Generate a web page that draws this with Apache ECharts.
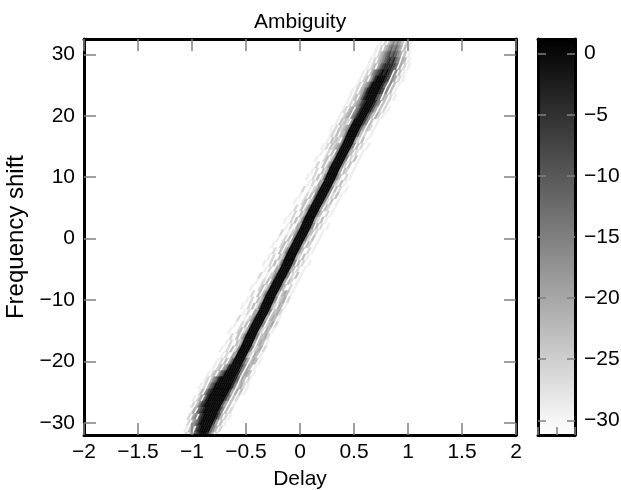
<!DOCTYPE html>
<html>
<head>
<meta charset="utf-8">
<script src="https://cdn.jsdelivr.net/npm/echarts@6/dist/echarts.min.js"></script>
<style>
html, body { margin: 0; padding: 0; background: #fff; }
#AmbiguityChart { width: 621px; height: 490px; }
</style>
</head>
<body>
<div id="AmbiguityChart"></div>
<script>
// frequency rows, top to bottom
const freqRows = [32, 31, 30, 29, 28, 27, 26, 25, 24, 23, 22, 21, 20, 19, 18, 17, 16, 15, 14, 13, 12, 11, 10, 9, 8, 7, 6, 5, 4, 3, 2, 1, 0,
  -1, -2, -3, -4, -5, -6, -7, -8, -9, -10, -11, -12, -13, -14, -15, -16, -17, -18, -19, -20,
  -21, -22, -23, -24, -25, -26, -27, -28, -29, -30, -31, -32]

// delay of the ridge centre in each row
const ridgeDelay = [0.87, 0.85, 0.83, 0.81, 0.79, 0.76, 0.74, 0.71, 0.68, 0.66, 0.63, 0.60, 0.57, 0.54, 0.51, 0.48, 0.46,
  0.43, 0.40, 0.37, 0.34, 0.31, 0.29, 0.26, 0.23, 0.20, 0.17, 0.14, 0.11, 0.08, 0.06, 0.03, 0.00,
  -0.03, -0.06, -0.09, -0.11, -0.14, -0.17, -0.20, -0.23, -0.26, -0.29, -0.31, -0.34, -0.37, -0.40, -0.43, -0.46,
  -0.48, -0.51, -0.54, -0.57, -0.60, -0.63, -0.66, -0.68, -0.71, -0.74, -0.77, -0.80, -0.83, -0.85, -0.88, -0.90]

// level per cell across the ridge, offsets -0.24 .. +0.24 in steps of 0.02 ('.' = below scale)
const bandRows = [
  '......1.2.3454543.2.1....',
  '.....1.2.34565654.3.1....',
  '.....1.23456767654.3.1...',
  '....1.2.3456787865.43.1..',
  '....1.23.467888876.4.2.1.',
  '...1.2.3567898987.5.3.1..',
  '...1.23.468999987.54.2.1.',
  '...12.34579999986.5.3.1..',
  '..1.2.34689999987.5.3.1..',
  '..1.23.4689999976.43.2.1.',
  '..1.2.345789999865.3.2...',
  '..12.34.5689999864.3.2.1.',
  '..1.234.5689999753.42.1..',
  '..1.3232.59999975.3..1...',
  '.1.2.323459999964.32.1...',
  '..12.3.3359999963.2..1...',
  '..1.3232.59999942.3.1....',
  '.1.2.32345999995.3.2..1..',
  '..1..2.3.59999943.2..1...',
  '.1...23.24999995.2.3.1...',
  '...2..3.359999952.3..1...',
  '..1.2..324999994.32..1...',
  '.1..2.3.259999953..2.1...',
  '...1.2..449999942.3.1....',
  '..2..1.235999995.3.2..1..',
  '..1..2.3.5999995.2.3.1...',
  '.1...23.249999952.3..1...',
  '...2..3.35999994.32..1...',
  '..1.2..3249999953..2.1...',
  '.1..2.3.259999942.3.1....',
  '...1.2..44999995.3.2..1..',
  '..2..1.2359999943.2..1...',
  '..1..2.3.59999952.3..1...',
  '.1...23.24999994.32..1...',
  '...2..3.359999953..2.1...',
  '..1.2..3249999942.3.1....',
  '.1..2.3.25999995.3.2..1..',
  '...1.2..449999943.2..1...',
  '..2..1.235999995.2.3.1...',
  '..1..2.3.5999994.32..1...',
  '.1...23.249999953..2.1...',
  '...2..3.35999994.343.1...',
  '..1.2..324999995.234.2...',
  '.1..2.3.259999942.43.1...',
  '...1.2..44999995.3342....',
  '..2..1.235999994.343.1...',
  '..1..2.3.5999995.234.2...',
  '.1...23.249999942.43.1...',
  '...2..3.35999995.3342....',
  '..1.2..324999994.343.1...',
  '.1..2.3.25999995.234.2...',
  '...1.2..449999942.43.1...',
  '..1.2.3.469999964.343.1..',
  '..1.23.4589999975.43.1...',
  '.1.23.46799999985.443.1..',
  '.12.3568999999986.43.2...',
  '1.2.4679999999985.342.1..',
  '.13.5789999999974.4.3.1..',
  '1.24.689999999975.3.2....',
  '.2.35789999999964.3.1....',
  '..14.678999999975.3.2....',
  '..2.45.78999999863.2.1...',
  '...2.456899999974.3.1....',
  '...1.34.7899999653.2.....',
  '....2.3.678999864.2......'
]

// dB value of each level character
const levelDb = [null, -29, -26, -23, -20, -16, -12, -8, -4, 0]
const cellWidth = 0.02

const freqTicks = [-30, -20, -10, 0, 10, 20, 30]
const dbTicks = [-30, -25, -20, -15, -10, -5, 0]
const dbRange = [-31.2, 1.2]
const grayRamp = ['#ffffff', '#000000']

const bandData = []
bandRows.forEach((row, i) => {
  const ridge = ridgeDelay[i]
  const last = ridgeDelay.length - 1
  const up = i > 0 ? (ridgeDelay[i - 1] - ridge) / 2 : (ridge - ridgeDelay[i + 1]) / 2
  const down = i < last ? (ridgeDelay[i + 1] - ridge) / 2 : (ridge - ridgeDelay[i - 1]) / 2
  const center = (row.length - 1) / 2
  for (let j = 0; j < row.length; j++) {
    const ch = row[j]
    if (ch === '.') continue
    bandData.push([ridge + (j - center) * cellWidth, freqRows[i], levelDb[+ch], down, up])
  }
})

const FONT = 'Liberation Sans, Arial, Helvetica, sans-serif'
const minus = v => String(v).replace('-', '\u2212')
const border = { show: true, onZero: false, lineStyle: { color: '#000', width: 3 } }
const tick = len => ({ show: true, inside: true, length: len, lineStyle: { color: '#808080', width: 1.5 } })
const label = { color: '#000', fontSize: 21, fontFamily: FONT, formatter: minus }

const chart = echarts.init(document.getElementById('AmbiguityChart'))

chart.setOption({
  animation: false,
  backgroundColor: '#fff',
  title: {
    text: 'Ambiguity',
    left: 254,
    top: 12,
    padding: 0,
    textStyle: { color: '#000', fontSize: 21, fontWeight: 'normal', fontFamily: FONT }
  },
  grid: [
    { left: 84, top: 39, width: 432, height: 396, outerBoundsMode: 'none' },
    { left: 538, top: 39, width: 37, height: 396, outerBoundsMode: 'none' }
  ],
  xAxis: [
    {
      gridIndex: 0, type: 'value', min: -2, max: 2, interval: 0.5, position: 'bottom', z: 10,
      axisLine: border, axisTick: tick(12), splitLine: { show: false },
      axisLabel: Object.assign({ margin: 7 }, label),
      name: 'Delay', nameLocation: 'middle', nameGap: 34,
      nameTextStyle: { color: '#000', fontSize: 21, fontFamily: FONT }
    },
    {
      gridIndex: 0, type: 'value', min: -2, max: 2, interval: 0.5, position: 'top', z: 10,
      axisLine: border, axisTick: tick(12), splitLine: { show: false }, axisLabel: { show: false }
    },
    {
      gridIndex: 1, type: 'value', min: 0, max: 2, interval: 1, position: 'bottom', z: 10,
      axisLine: border, axisTick: tick(8), splitLine: { show: false }, axisLabel: { show: false }
    },
    {
      gridIndex: 1, type: 'value', min: 0, max: 2, position: 'top', z: 10,
      axisLine: border, axisTick: { show: false }, splitLine: { show: false }, axisLabel: { show: false }
    }
  ],
  yAxis: [
    {
      gridIndex: 0, type: 'value', min: -32, max: 32.5, position: 'left', z: 10,
      axisLine: border, splitLine: { show: false },
      axisTick: Object.assign(tick(12), { customValues: freqTicks }),
      axisLabel: Object.assign({ margin: 9, customValues: freqTicks }, label),
      name: 'Frequency shift', nameLocation: 'middle', nameGap: 50, nameRotate: 90,
      nameTextStyle: { color: '#000', fontSize: 24, fontFamily: FONT }
    },
    {
      gridIndex: 0, type: 'value', min: -32, max: 32.5, position: 'right', z: 10,
      axisLine: border, splitLine: { show: false },
      axisTick: Object.assign(tick(12), { customValues: freqTicks }),
      axisLabel: { show: false }
    },
    {
      gridIndex: 1, type: 'value', min: dbRange[0], max: dbRange[1], position: 'left', z: 10,
      axisLine: border, splitLine: { show: false },
      axisTick: Object.assign(tick(8), { customValues: dbTicks }),
      axisLabel: { show: false }
    },
    {
      gridIndex: 1, type: 'value', min: dbRange[0], max: dbRange[1], position: 'right', z: 10,
      axisLine: border, splitLine: { show: false },
      axisTick: Object.assign(tick(8), { customValues: dbTicks }),
      axisLabel: Object.assign({ margin: 9, customValues: dbTicks }, label)
    }
  ],
  visualMap: {
    show: false,
    type: 'continuous',
    seriesIndex: 0,
    dimension: 2,
    min: dbRange[0],
    max: dbRange[1],
    inRange: { color: grayRamp }
  },
  series: [
    {
      type: 'custom',
      xAxisIndex: 0,
      yAxisIndex: 0,
      clip: true,
      data: bandData,
      renderItem: (params, api) => {
        const d = api.value(0)
        const f = api.value(1)
        const down = api.value(3)
        const up = api.value(4)
        const hw = cellWidth / 2
        const color = api.visual('color')
        return {
          type: 'polygon',
          shape: {
            points: [
              api.coord([d - hw + down, f - 0.5]),
              api.coord([d + hw + down, f - 0.5]),
              api.coord([d + hw + up, f + 0.5]),
              api.coord([d - hw + up, f + 0.5])
            ]
          },
          style: { fill: color, stroke: color, lineWidth: 0.5 }
        }
      }
    },
    {
      type: 'custom',
      xAxisIndex: 2,
      yAxisIndex: 2,
      clip: true,
      data: [[0, dbRange[0], 2, dbRange[1]]],
      renderItem: (params, api) => {
        const p0 = api.coord([api.value(0), api.value(3)])
        const p1 = api.coord([api.value(2), api.value(1)])
        return {
          type: 'rect',
          shape: { x: p0[0], y: p0[1], width: p1[0] - p0[0], height: p1[1] - p0[1] },
          style: {
            fill: new echarts.graphic.LinearGradient(0, 0, 0, 1, [
              { offset: 0, color: grayRamp[1] },
              { offset: 1, color: grayRamp[0] }
            ])
          }
        }
      }
    }
  ]
})
</script>
</body>
</html>
